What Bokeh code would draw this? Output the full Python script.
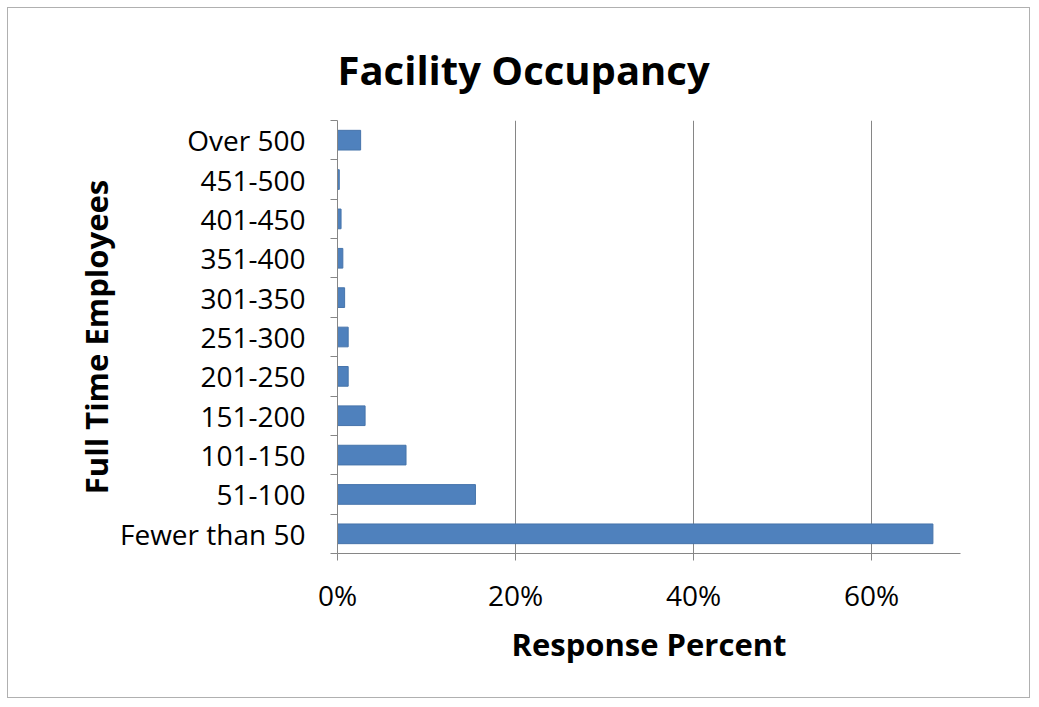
from bokeh.plotting import figure
from bokeh.models import FixedTicker, PrintfTickFormatter, Range1d
from bokeh.embed import file_html
from bokeh.resources import INLINE

categories = ["Fewer than 50", "51-100", "101-150", "151-200", "201-250", "251-300",
              "301-350", "351-400", "401-450", "451-500", "Over 500"]
values = [66.9, 15.5, 7.7, 3.1, 1.2, 1.2, 0.8, 0.6, 0.4, 0.2, 2.6]
x_ticks = [0, 20, 40, 60]

FONT = "Open Sans"
BLUE = "#4F81BD"
GRAY = "#868686"

idx = list(range(len(categories)))

p = figure(width=1023, height=691, output_backend="svg", toolbar_location=None,
           x_range=Range1d(0, 70), y_range=Range1d(-0.5, len(categories) - 0.5),
           min_border_left=329, min_border_right=71, min_border_top=112, min_border_bottom=146)
p.styles = {"border": "1px solid #b0b0b0", "margin-left": "7px", "margin-top": "7px"}
p.outline_line_color = None
p.background_fill_color = "white"
p.border_fill_color = "white"

p.title.text = "Facility Occupancy"
p.title.text_font = FONT
p.title.text_font_style = "bold"
p.title.text_font_size = "40px"
p.title.text_color = "black"
p.title.align = "left"
p.title.offset = 0
p.title.standoff = 48

p.hbar(y=idx, right=values, left=0, height=0.5, fill_color=BLUE, line_color="#4674AB", line_width=1)

# x axis
p.xaxis.ticker = FixedTicker(ticks=x_ticks)
p.xaxis.formatter = PrintfTickFormatter(format="%d%%")
p.xaxis.axis_label = "Response Percent"
p.xaxis.axis_label_text_font = FONT
p.xaxis.axis_label_text_font_style = "bold"
p.xaxis.axis_label_text_font_size = "31px"
p.xaxis.axis_label_text_color = "black"
p.xaxis.axis_label_standoff = 6
p.xaxis.major_label_text_font = FONT
p.xaxis.major_label_text_font_size = "28px"
p.xaxis.major_label_text_color = "black"
p.xaxis.major_label_standoff = 15
p.xaxis.axis_line_color = GRAY
p.xaxis.major_tick_line_color = GRAY
p.xaxis.major_tick_out = 7
p.xaxis.major_tick_in = 0
p.xaxis.minor_tick_line_color = None

# y axis
boundaries = [i - 0.5 for i in range(len(categories) + 1)]
p.yaxis.ticker = FixedTicker(ticks=idx, minor_ticks=boundaries)
p.yaxis.major_label_overrides = {i: c for i, c in enumerate(categories)}
p.yaxis.axis_label = "Full Time Employees"
p.yaxis.axis_label_text_font = FONT
p.yaxis.axis_label_text_font_style = "bold"
p.yaxis.axis_label_text_font_size = "31px"
p.yaxis.axis_label_text_color = "black"
p.yaxis.axis_label_standoff = 0
p.yaxis.major_label_text_font = FONT
p.yaxis.major_label_text_font_size = "28px"
p.yaxis.major_label_text_color = "black"
p.yaxis.major_label_standoff = 25
p.yaxis.axis_line_color = GRAY
p.yaxis.major_tick_line_color = None
p.yaxis.major_tick_out = 0
p.yaxis.major_tick_in = 0
p.yaxis.minor_tick_line_color = GRAY
p.yaxis.minor_tick_out = 7
p.yaxis.minor_tick_in = 0

p.xgrid.ticker = FixedTicker(ticks=x_ticks[1:])
p.xgrid.grid_line_color = GRAY
p.ygrid.grid_line_color = None

open("out.html", "w").write(file_html(p, INLINE))
